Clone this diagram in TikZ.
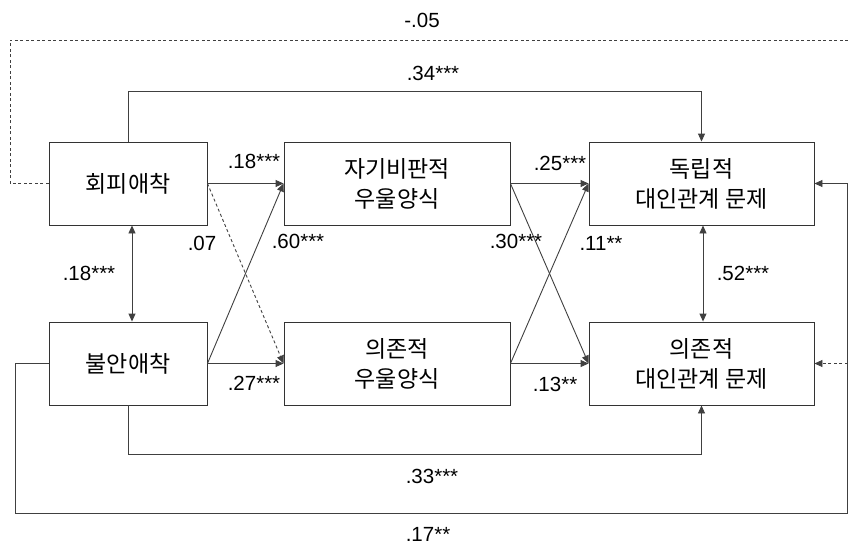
\documentclass[tikz,border=0pt]{standalone}
\usepackage{fontspec}
\setmainfont{Liberation Sans}
\newfontfamily\kr{Noto Sans CJK KR}
\usetikzlibrary{arrows.meta}
\begin{document}
\begin{tikzpicture}[x=1pt,y=-1pt,
  box/.style={draw=black!80, line width=0.9pt, minimum height=83pt, inner sep=0pt, align=center, font=\kr\fontsize{23}{30}\selectfont},
  conn/.style={draw=black!75, line width=0.9pt},
  arr/.style={conn, -{Triangle[length=8pt,width=7pt]}},
  dbl/.style={conn, {Triangle[length=8pt,width=7pt]}-{Triangle[length=8pt,width=7pt]}},
  dsh/.style={dash pattern=on 3pt off 2.5pt},
  lab/.style={anchor=base, inner sep=0pt, font=\fontsize{20.5}{20.5}\selectfont}
]
\useasboundingbox[fill=white] (0,0) rectangle (850,547);

% boxes
\node[box, minimum width=158pt] (A) at (128,183.5) {회피애착};
\node[box, minimum width=158pt] (B) at (128,363.5) {불안애착};
\node[box, minimum width=226pt] (C) at (397,183.5) {자기비판적\\우울양식};
\node[box, minimum width=226pt] (D) at (397,363.5) {의존적\\우울양식};
\node[box, minimum width=225pt] (E) at (701.5,183.5) {독립적\\대인관계 문제};
\node[box, minimum width=225pt] (F) at (701.5,363.5) {의존적\\대인관계 문제};

% helper coordinates
\coordinate (top34) at (0,91);
\coordinate (bot33) at (0,454);
\coordinate (L17) at (15,513);
\coordinate (R17) at (847,513);
\coordinate (L05) at (10,40);
\coordinate (R05) at (858,40);

% long paths
\draw[arr] (A.north) -- (A.north |- top34) -| (E.north);
\draw[arr] (B.south) -- (B.south |- bot33) -| (F.south);
\draw[arr] (B.west) -| (L17) -- (R17) |- (E.east);
\draw[arr, dsh] (A.west) -| (L05) -- (R05) |- (F.east);

% correlations
\draw[dbl] ([xshift=4pt]A.south) -- ([xshift=4pt]B.north);
\draw[dbl] ([xshift=1.5pt]E.south) -- ([xshift=1.5pt]F.north);

% direct paths
\draw[arr] (A.east) -- (C.west);
\draw[arr, dsh] (A.east) -- (D.west);
\draw[arr] (B.east) -- (C.west);
\draw[arr] (B.east) -- (D.west);
\draw[arr] (C.east) -- (E.west);
\draw[arr] (C.east) -- (F.west);
\draw[arr] (D.east) -- (E.west);
\draw[arr] (D.east) -- (F.west);

% labels
\node[lab] (l05) at (422,27) {-.05};
\node[lab] (l34) at (433,80) {.34***};
\node[lab] (l33) at (432,483) {.33***};
\node[lab] (l17) at (428,541) {.17**};
\node[lab] (l18a) at (254,168) {.18***};
\node[lab] (l07) at (202,250) {.07};
\node[lab] (l60) at (298,248) {.60***};
\node[lab] (l25) at (560,170) {.25***};
\node[lab] (l30) at (516,248) {.30***};
\node[lab] (l11) at (601,250) {.11**};
\node[lab] (l52) at (743,280) {.52***};
\node[lab] (l18b) at (89,280) {.18***};
\node[lab] (l27) at (254,390) {.27***};
\node[lab] (l13) at (555,391) {.13**};
\end{tikzpicture}
\end{document}
